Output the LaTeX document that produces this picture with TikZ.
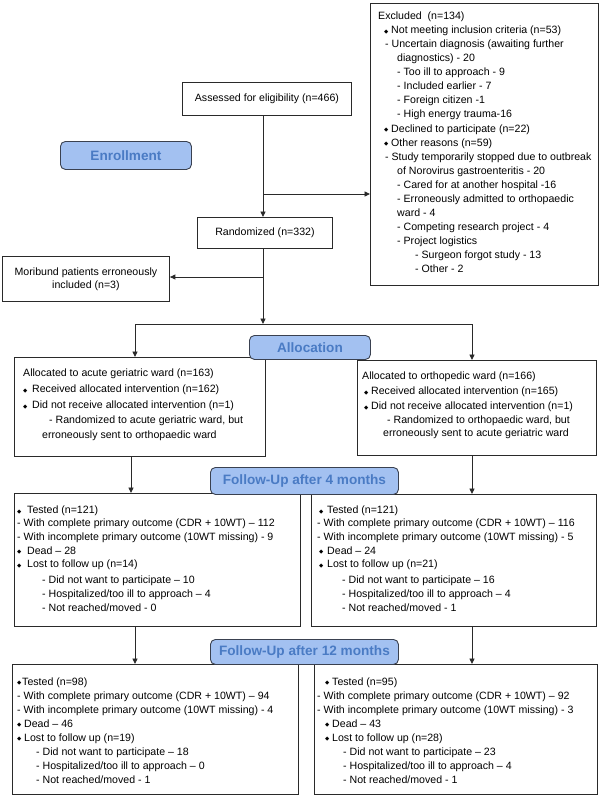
\documentclass[tikz,border=0pt]{standalone}
\usepackage{fontspec}
\setmainfont{Liberation Sans}
\newfontfamily\djv{DejaVu Sans}
\usetikzlibrary{arrows.meta}
\definecolor{linec}{HTML}{2A2A2A}
\definecolor{bubfill}{HTML}{A3C1F1}
\definecolor{bubbord}{HTML}{3A4150}
\definecolor{bubtext}{HTML}{4A7BC4}
\newcommand\fs{\fontsize{10.6}{14}\selectfont}
\newcommand\fb{\fontsize{13.6}{16}\selectfont\bfseries}
\newcommand\dia{\makebox[4pt][c]{\djv\fontsize{5.5}{5.5}\selectfont\raisebox{0.4pt}{◆}}}
\tikzset{
  box/.style={draw=linec, line width=0.9pt, fill=white, inner sep=0pt, anchor=north west, font=\fs, align=center},
  txt/.style={inner sep=0pt, anchor=north west, align=left},
  bubble/.style={draw=bubbord, line width=0.9pt, fill=bubfill, rounded corners=5pt, text=bubtext, font=\fb, inner sep=0pt, anchor=north west},
  arr/.style={draw=linec, line width=0.9pt, -{Triangle[length=5.5pt,width=5pt]}},
  conn/.style={draw=linec, line width=0.9pt}
}
\begin{document}
\begin{tikzpicture}[x=1pt,y=-1pt]
\useasboundingbox (0,0) rectangle (600,798);
\fill[white] (0,0) rectangle (600,798);

% boxes
\node[box, minimum width=169, minimum height=33] (assess) at (182,82) {Assessed for eligibility (n=466)};
\node[box, minimum width=135, minimum height=31] (rand) at (197,217) {Randomized (n=332)};
\node[box, minimum width=228, minimum height=282] (excl) at (370,3) {};
\node[box, minimum width=167, minimum height=45, font=\fontsize{10.6}{13}\selectfont] (mori) at (2,256) {Moribund patients erroneously\\included (n=3)};
\node[box, minimum width=251, minimum height=99] (allocL) at (14,357) {};
\node[box, minimum width=239, minimum height=95] (allocR) at (357,360) {};
\node[box, minimum width=286, minimum height=133] (fuL) at (14,493) {};
\node[box, minimum width=285, minimum height=132] (fuR) at (311,494) {};
\node[box, minimum width=286, minimum height=130] (fyL) at (12,664) {};
\node[box, minimum width=283, minimum height=130] (fyR) at (314,664) {};

% texts
\node[txt, font=\fontsize{10.6}{14.07}\selectfont] (exclT) at (378,9.45) {\strut Excluded\ \ (n=134)\\
\hspace*{6pt}\dia\hspace{3pt}Not meeting inclusion criteria (n=53)\\
\hspace*{7pt}- Uncertain diagnosis (awaiting further\\
\hspace*{19pt}diagnostics) - 20\\
\hspace*{19pt}- Too ill to approach - 9\\
\hspace*{19pt}- Included earlier - 7\\
\hspace*{19pt}- Foreign citizen -1\\
\hspace*{19pt}- High energy trauma-16\\
\hspace*{6pt}\dia\hspace{3pt}Declined to participate (n=22)\\
\hspace*{6pt}\dia\hspace{3pt}Other reasons (n=59)\\
\hspace*{7pt}- Study temporarily stopped due to outbreak\\
\hspace*{19pt}of Norovirus gastroenteritis - 20\\
\hspace*{19pt}- Cared for at another hospital -16\\
\hspace*{19pt}- Erroneously admitted to orthopaedic\\
\hspace*{19pt}ward - 4\\
\hspace*{19pt}- Competing research project - 4\\
\hspace*{19pt}- Project logistics\\
\hspace*{37pt}- Surgeon forgot study - 13\\
\hspace*{37pt}- Other - 2};

\node[txt, font=\fontsize{10.6}{14.3}\selectfont] (allocLT) at (23,365.9) {\strut Allocated to acute geriatric ward (n=163)\\[2.4pt]
\hspace*{0pt}\dia\hspace{5pt}Received allocated intervention (n=162)\\[1.4pt]
\hspace*{0pt}\dia\hspace{5pt}Did not receive allocated intervention (n=1)\\[1pt]
\hspace*{26pt}- Randomized to acute geriatric ward, but\\
\hspace*{19pt}erroneously sent to orthopaedic ward};

\node[txt, font=\fontsize{10.6}{13.5}\selectfont] (allocRT) at (362,370.15) {\strut Allocated to orthopedic ward (n=166)\\[1.5pt]
\hspace*{2pt}\dia\hspace{3pt}Received allocated intervention (n=165)\\[1.5pt]
\hspace*{2pt}\dia\hspace{3pt}Did not receive allocated intervention (n=1)\\[0.5pt]
\hspace*{25pt}- Randomized to orthopaedic ward, but\\[-0.5pt]
\hspace*{21pt}erroneously sent to acute geriatric ward};

\node[txt, font=\fontsize{10.6}{13.8}\selectfont] (fuLT) at (17,503.9) {\strut\dia\hspace{6pt}Tested (n=121)\\[-1pt]
- With complete primary outcome (CDR + 10WT) -- 112\\
- With incomplete primary outcome (10WT missing) - 9\\
\dia\hspace{6pt}Dead -- 28\\
\dia\hspace{6pt}Lost to follow up (n=14)\\[2.2pt]
\hspace*{25pt}- Did not want to participate -- 10\\
\hspace*{25pt}- Hospitalized/too ill to approach -- 4\\
\hspace*{25pt}- Not reached/moved - 0};

\node[txt, font=\fontsize{10.6}{13.8}\selectfont] (fuRT) at (317,503.9) {\strut\hspace*{2pt}\dia\hspace{4pt}Tested (n=121)\\[-1pt]
- With complete primary outcome (CDR + 10WT) -- 116\\
- With incomplete primary outcome (10WT missing) - 5\\
\hspace*{2pt}\dia\hspace{4pt}Dead -- 24\\
\hspace*{2pt}\dia\hspace{4pt}Lost to follow up (n=21)\\[2.2pt]
\hspace*{25pt}- Did not want to participate -- 16\\
\hspace*{25pt}- Hospitalized/too ill to approach -- 4\\
\hspace*{25pt}- Not reached/moved - 1};

\node[txt, font=\fontsize{10.6}{14}\selectfont] (fyLT) at (17,675.3) {\strut\dia\hspace{1pt}Tested (n=98)\\
- With complete primary outcome (CDR + 10WT) -- 94\\
- With incomplete primary outcome (10WT missing) - 4\\
\dia\hspace{3pt}Dead -- 46\\
\dia\hspace{3pt}Lost to follow up (n=19)\\
\hspace*{19pt}- Did not want to participate -- 18\\
\hspace*{19pt}- Hospitalized/too ill to approach -- 0\\
\hspace*{19pt}- Not reached/moved - 1};

\node[txt, font=\fontsize{10.6}{14}\selectfont] (fyRT) at (317,675.3) {\strut\hspace*{8pt}\dia\hspace{3pt}Tested (n=95)\\
- With complete primary outcome (CDR + 10WT) -- 92\\
- With incomplete primary outcome (10WT missing) - 3\\
\hspace*{8pt}\dia\hspace{3pt}Dead -- 43\\
\hspace*{8pt}\dia\hspace{3pt}Lost to follow up (n=28)\\
\hspace*{26pt}- Did not want to participate -- 23\\
\hspace*{26pt}- Hospitalized/too ill to approach -- 4\\
\hspace*{26pt}- Not reached/moved - 1};

% connector coordinates
\coordinate (mx) at (263,0);
\coordinate (j1) at (263,194);
\coordinate (j2) at (263,277);
\coordinate (j3) at (263,324);
\coordinate (cl) at (135,324);
\coordinate (cr) at (472,324);
\coordinate (xl) at (131,0);

\draw[arr] (assess.south -| mx) -- (rand.north -| mx);
\draw[arr] (j1) -- (j1 -| excl.west);
\draw[arr] (rand.south -| mx) -- (j3);
\draw[arr] (j2) -- (j2 -| mori.east);
\draw[conn] (cl) -- (cr);
\draw[arr] (cl) -- (cl |- allocL.north);
\draw[arr] (cr) -- (cr |- allocR.north);
\draw[arr] (allocL.south -| xl) -- (fuL.north -| xl);
\draw[arr] (allocR.south -| cr) -- (fuR.north -| cr);
\draw[arr] (fuL.south -| cl) -- (fyL.north -| cl);
\draw[arr] (fuR.south -| cr) -- (fyR.north -| cr);

% bubbles
\node[bubble, minimum width=131, minimum height=28] (enr) at (60,141) {Enrollment};
\node[bubble, minimum width=121, minimum height=24] (allocB) at (249,335) {Allocation};
\node[bubble, minimum width=188, minimum height=27] (fu4) at (210,467) {Follow-Up after 4 months};
\node[bubble, minimum width=188, minimum height=25] (fu12) at (210,639) {Follow-Up after 12 months};
\end{tikzpicture}
\end{document}
